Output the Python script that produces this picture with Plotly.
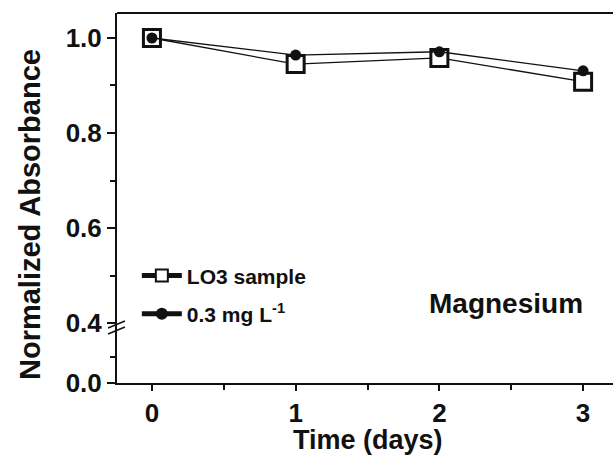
import plotly.graph_objects as go

days = [0, 1, 2, 3]
lo3_sample = [1.0, 0.945, 0.958, 0.908]
mg_03 = [1.0, 0.964, 0.971, 0.931]
series_names = ["LO3 sample", "0.3 mg L<sup>-1</sup>"]
upper_ticks = [0.4, 0.6, 0.8, 1.0]
upper_ticktext = ["0.4", "0.6", "0.8", "1.0"]
lower_ticks = [0.0]
lower_ticktext = ["0.0"]
x_ticks = [0, 1, 2, 3]

FONT = "Liberation Sans, Arial, Helvetica, sans-serif"
BLACK = "#111111"

fig = go.Figure()

fig.add_trace(go.Scatter(
    x=days, y=lo3_sample, mode="lines+markers", name=series_names[0],
    legendgroup="a",
    line=dict(color=BLACK, width=1.3),
    marker=dict(symbol="square", size=17, color="white",
                line=dict(color=BLACK, width=3)),
    xaxis="x", yaxis="y",
))
fig.add_trace(go.Scatter(
    x=days, y=mg_03, mode="lines+markers", name=series_names[1],
    legendgroup="b",
    line=dict(color=BLACK, width=1.3),
    marker=dict(symbol="circle", size=11, color=BLACK,
                line=dict(color=BLACK, width=0)),
    xaxis="x", yaxis="y",
))
# empty trace so the lower (broken) y segment is rendered
fig.add_trace(go.Scatter(x=[], y=[], xaxis="x", yaxis="y2",
                         showlegend=False, hoverinfo="skip"))

brk = 0.154
axis_common = dict(
    showgrid=False, zeroline=False, showline=True, linecolor=BLACK,
    linewidth=2, ticks="outside", tickcolor=BLACK, tickwidth=1.5,
    ticklen=8, automargin=False,
    tickfont=dict(family=FONT, size=26, color=BLACK, weight="bold"),
)

fig.update_layout(
    width=613, height=456,
    margin=dict(l=117, r=0, t=13, b=73),
    paper_bgcolor="white", plot_bgcolor="white",
    showlegend=True,
    legend=dict(
        x=0.04, y=0.345, xanchor="left", yanchor="top",
        bgcolor="rgba(0,0,0,0)", borderwidth=0, itemwidth=40,
        font=dict(family=FONT, size=21, color=BLACK, weight="bold"),
        itemsizing="constant", traceorder="grouped", tracegroupgap=8,
    ),
    xaxis=dict(
        range=[-0.243, 3.208], tickvals=x_ticks, anchor="y2",
        minor=dict(tickvals=[0.5, 1.5, 2.5], ticks="outside", ticklen=5,
                   tickcolor=BLACK, tickwidth=1.5),
        **{**axis_common, "ticklen": 6},
    ),
    yaxis=dict(
        domain=[brk, 1.0], range=[0.3937, 1.0526], anchor="x",
        tickvals=upper_ticks, ticktext=upper_ticktext,
        minor=dict(tickvals=[0.5, 0.7, 0.9], ticks="outside", ticklen=5,
                   tickcolor=BLACK, tickwidth=1.5),
        **axis_common,
    ),
    yaxis2=dict(
        domain=[0.0, brk], range=[0.0, 0.22], anchor="x",
        tickvals=lower_ticks, ticktext=lower_ticktext,
        minor=dict(tickvals=[0.1], ticks="outside", ticklen=5,
                   tickcolor=BLACK, tickwidth=1.5),
        **axis_common,
    ),
    shapes=[
        # top frame line
        dict(type="line", xref="paper", yref="paper", x0=0, x1=1, y0=1, y1=1,
             line=dict(color=BLACK, width=2)),
        # axis break marks
        dict(type="line", xref="paper", yref="paper",
             x0=-0.018, x1=0.016, y0=(383 - 328) / 370, y1=(383 - 321) / 370,
             line=dict(color=BLACK, width=1.5)),
        dict(type="line", xref="paper", yref="paper",
             x0=-0.018, x1=0.016, y0=(383 - 334) / 370, y1=(383 - 327) / 370,
             line=dict(color=BLACK, width=1.5)),
    ],
    annotations=[
        dict(text="Normalized Absorbance", xref="paper", yref="paper",
             x=(30 - 117) / 496, y=(383 - 215) / 370, textangle=-90,
             showarrow=False, xanchor="center", yanchor="middle",
             font=dict(family=FONT, size=29, color=BLACK, weight="bold")),
        dict(text="Time (days)", xref="paper", yref="paper",
             x=(368 - 117) / 496, y=(383 - 440) / 370,
             showarrow=False, xanchor="center", yanchor="middle",
             font=dict(family=FONT, size=27, color=BLACK, weight="bold")),
        dict(text="Magnesium", xref="paper", yref="paper",
             x=(506 - 117) / 496, y=(383 - 303) / 370,
             showarrow=False, xanchor="center", yanchor="middle",
             font=dict(family=FONT, size=28, color=BLACK, weight="bold")),
    ],
)

fig.write_html(
    "out.html",
    config={"displayModeBar": False},
    post_script="document.body.style.margin='0';document.body.style.overflow='hidden';",
)
